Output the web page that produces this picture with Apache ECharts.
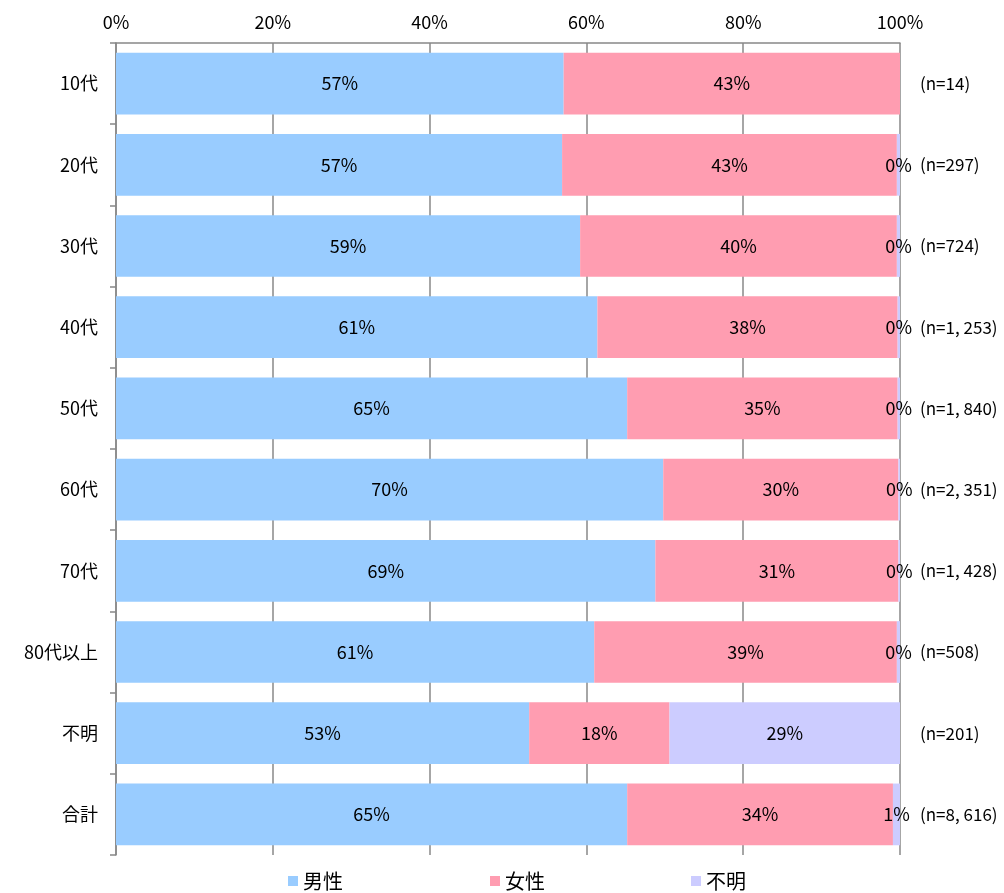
<!DOCTYPE html>
<html><head><meta charset="utf-8">
<script src="https://cdn.jsdelivr.net/npm/echarts@6/dist/echarts.min.js"></script>
<style>html,body{margin:0;padding:0;background:#fff}#c{width:1004px;height:893px}</style>
</head><body><div id="c"></div>
<script>
var categories = ['10代','20代','30代','40代','50代','60代','70代','80代以上','不明','合計'];
var nLabels = ['(n=14)','(n=297)','(n=724)','(n=1, 253)','(n=1, 840)','(n=2, 351)','(n=1, 428)','(n=508)','(n=201)','(n=8, 616)'];
var male = [57.1, 56.9, 59.2, 61.4, 65.2, 69.8, 68.8, 61.0, 52.7, 65.2];
var female = [42.9, 42.7, 40.4, 38.3, 34.5, 30.0, 31.0, 38.6, 17.9, 33.9];
var unknown = [0, 0.4, 0.4, 0.3, 0.3, 0.2, 0.2, 0.4, 29.4, 0.9];
var xTicks = [0, 20, 40, 60, 80, 100];

var FONT = '"Noto Sans CJK JP", "Noto Sans", sans-serif';
var chart = echarts.init(document.getElementById('c'));
function lbl(p){ return p.value === 0 ? '' : Math.round(p.value) + '%'; }
function mk(name, data, color){
  return {
    name: name, type: 'bar', stack: 'total', data: data,
    barCategoryGap: '24%',
    itemStyle: {color: color},
    label: {show: true, position: 'inside', formatter: lbl, color: '#000', fontSize: 18, fontFamily: FONT},
    emphasis: {disabled: true}
  };
}
function leg(name, left){
  return {data: [name], left: left, top: 866, itemWidth: 10, itemHeight: 10, icon: 'rect', itemGap: 6,
    textStyle: {fontSize: 20, fontFamily: FONT, color: '#000'}};
}
chart.setOption({
  animation: false,
  textStyle: {fontFamily: FONT},
  legend: [leg('男性', 283), leg('女性', 485), leg('不明', 686)],
  grid: {left: 116, right: 104, top: 43, bottom: 38, containLabel: false},
  xAxis: {
    type: 'value', position: 'top', min: xTicks[0], max: xTicks[xTicks.length-1], interval: 20,
    axisLine: {show: true, lineStyle: {color: '#888', width: 1.5}},
    axisTick: {show: false},
    splitLine: {show: true, lineStyle: {color: '#888', width: 1.5}},
    axisLabel: {formatter: '{value}%', color: '#000', fontSize: 18, fontFamily: FONT, margin: 12}
  },
  yAxis: [{
    type: 'category', data: categories, inverse: true,
    axisLine: {show: true, lineStyle: {color: '#888', width: 1.5}},
    axisTick: {show: true, length: 6, lineStyle: {color: '#888', width: 1.5}},
    axisLabel: {color: '#000', fontSize: 18, fontFamily: FONT, margin: 18}
  }, {
    type: 'category', data: nLabels, inverse: true, position: 'right',
    axisLine: {show: false}, axisTick: {show: false},
    axisLabel: {color: '#000', fontSize: 17, fontFamily: FONT, margin: 20}
  }],
  series: [mk('男性', male, '#99CCFF'), mk('女性', female, '#FF9DB1'), mk('不明', unknown, '#CCCCFF')]
});
</script></body></html>
